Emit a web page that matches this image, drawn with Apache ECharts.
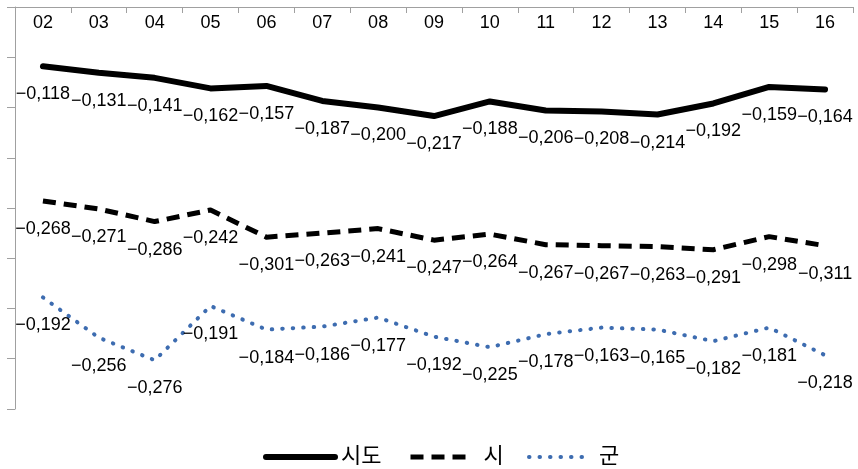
<!DOCTYPE html>
<html>
<head>
<meta charset="utf-8">
<script src="https://cdn.jsdelivr.net/npm/echarts@6/dist/echarts.min.js"></script>
<style>
html,body{margin:0;padding:0;background:#fff;}
#main{width:858px;height:469px;}
</style>
</head>
<body>
<div id="main"></div>
<script>
var categories = ['02','03','04','05','06','07','08','09','10','11','12','13','14','15','16'];
var sido = [-0.118,-0.131,-0.141,-0.162,-0.157,-0.187,-0.200,-0.217,-0.188,-0.206,-0.208,-0.214,-0.192,-0.159,-0.164];
var si   = [-0.268,-0.271,-0.286,-0.242,-0.301,-0.263,-0.241,-0.247,-0.264,-0.267,-0.267,-0.263,-0.291,-0.298,-0.311];
var gun  = [-0.192,-0.256,-0.276,-0.191,-0.184,-0.186,-0.177,-0.192,-0.225,-0.178,-0.163,-0.165,-0.182,-0.181,-0.218];
var seriesNames = ['시도','시','군'];

var FONT = '"Liberation Sans", "Noto Sans CJK KR", sans-serif';
function fmt(p){
  return p.value.toFixed(3).replace('.', ',').replace('-', '\u2212');
}
var labelCfg = {show:true, position:'bottom', distance:19, color:'#000', fontSize:18, fontFamily:FONT, formatter:fmt};
var legendText = {fontSize:22, color:'#000', fontFamily:FONT};
var BLUE = '#3d6cb0';

var chart = echarts.init(document.getElementById('main'), null, {renderer:'canvas'});
chart.setOption({
  animation:false,
  backgroundColor:'#fff',
  grid:{left:15, right:5, top:7, bottom:60},
  legend:[
    {data:[seriesNames[0]], left:258, top:441, itemWidth:69, itemHeight:16, itemGap:0,
     itemStyle:{opacity:0}, lineStyle:{color:'#000', width:6, type:'solid'},
     textStyle:Object.assign({padding:[0,0,0,1]}, legendText)},
    {data:[seriesNames[1]], left:403, top:441, itemWidth:58, itemHeight:16, itemGap:0,
     itemStyle:{opacity:0}, lineStyle:{color:'#000', width:5, type:[13,8]},
     textStyle:Object.assign({padding:[0,0,0,10]}, legendText)},
    {data:[seriesNames[2]], left:522, top:441, itemWidth:62, itemHeight:16, itemGap:0,
     itemStyle:{opacity:0}, lineStyle:{color:BLUE, width:4, type:[0.5,10], cap:'round'},
     textStyle:Object.assign({padding:[0,0,0,3]}, legendText)}
  ],
  xAxis:{
    type:'category', position:'top', data:categories, boundaryGap:true,
    axisLine:{show:true, onZero:false, lineStyle:{color:'#a0a0a0', width:1}},
    axisTick:{show:true, inside:true, length:6, lineStyle:{color:'#a0a0a0'}},
    axisLabel:{inside:true, margin:7, color:'#000', fontSize:18, fontFamily:FONT},
    splitLine:{show:false}
  },
  yAxis:{
    type:'value', min:-0.8, max:0, interval:0.1,
    axisLine:{show:true, lineStyle:{color:'#a0a0a0', width:1}},
    axisTick:{show:true, length:8, lineStyle:{color:'#a0a0a0'}},
    axisLabel:{show:false},
    splitLine:{show:false}
  },
  series:[
    {name:seriesNames[0], type:'line', stack:'total', data:sido, symbol:'circle', symbolSize:0.01, showSymbol:true,
     color:'#000', lineStyle:{color:'#000', width:6, cap:'round', join:'round'}, label:labelCfg, z:3},
    {name:seriesNames[1], type:'line', stack:'total', data:si, symbol:'circle', symbolSize:0.01, showSymbol:true,
     color:'#000', lineStyle:{color:'#000', width:5, type:[13,8], cap:'butt', join:'round'}, label:labelCfg, z:2},
    {name:seriesNames[2], type:'line', stack:'total', data:gun, symbol:'circle', symbolSize:0.01, showSymbol:true,
     color:BLUE, lineStyle:{color:BLUE, width:4, type:[0.5,10], cap:'round', join:'round'}, label:labelCfg, z:1}
  ]
});
</script>
</body>
</html>
